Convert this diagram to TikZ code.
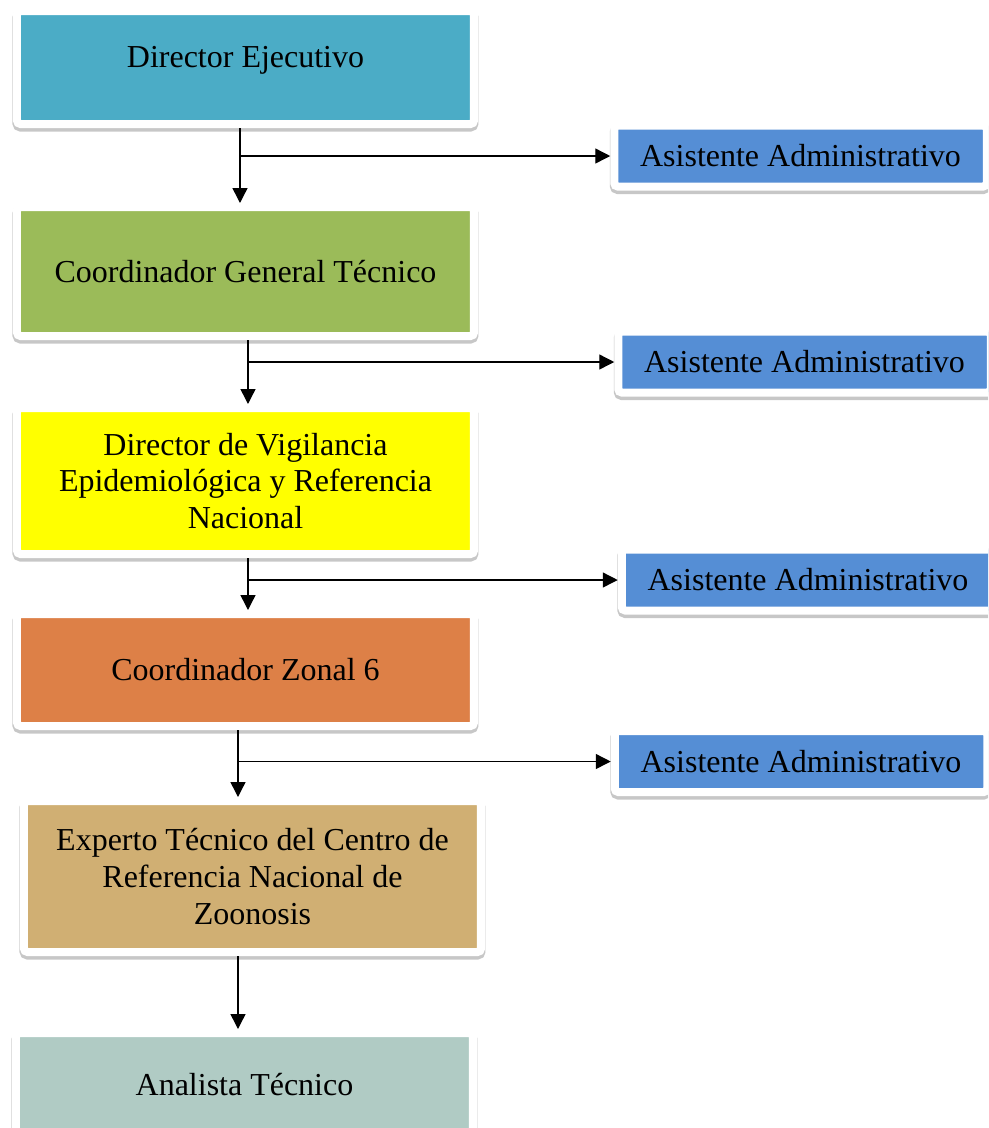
\documentclass[tikz,border=0pt]{standalone}
\usepackage{fontspec}
\setmainfont{Liberation Serif}
\usetikzlibrary{arrows.meta,shadows}
\definecolor{aqua}{RGB}{75,172,198}
\definecolor{olivo}{RGB}{155,187,89}
\definecolor{amarillo}{RGB}{255,255,0}
\definecolor{naranja}{RGB}{221,128,71}
\definecolor{arena}{RGB}{208,175,115}
\definecolor{salvia}{RGB}{176,203,196}
\definecolor{azulasis}{RGB}{85,142,213}
\begin{document}
\begin{tikzpicture}[
  puesto/.style={rectangle, draw=white, line width=0.16cm, rounded corners=2pt, minimum width=9.14cm, align=center, font=\fontsize{18.2pt}{21pt}\selectfont, drop shadow={shadow xshift=0pt, shadow yshift=-0.06cm, draw=black, line width=0.18cm, opacity=0.22}},
  asistente/.style={puesto, fill=azulasis, minimum width=7.45cm, minimum height=1.22cm},
  linea/.style={-{Triangle[width=0.3cm,length=0.3cm]}, line width=0.8pt},
  node distance=4cm
]
\path[use as bounding box, clip] (-4.91,1.35) rectangle (14.85,-21.21);

\node[puesto, fill=aqua, minimum height=2.26cm, text depth=0.42cm] (dirEj) {Director Ejecutivo};
\node[puesto, fill=olivo, minimum height=2.58cm, below of=dirEj, node distance=4.08cm] (coordGen) {Coordinador General Técnico};
\node[puesto, fill=amarillo, minimum height=2.92cm, below of=coordGen, node distance=4.19cm] (dirVig) {Director de Vigilancia\\Epidemiológica y Referencia\\Nacional};
\node[puesto, fill=naranja, minimum height=2.24cm, below of=dirVig, node distance=3.78cm] (coordZon) {Coordinador Zonal 6};
\node[puesto, fill=arena, minimum height=3.02cm, below of=coordZon, node distance=4.13cm, xshift=0.14cm] (experto) {Experto Técnico del Centro de\\Referencia Nacional de\\Zoonosis};
\node[puesto, fill=salvia, minimum height=2.08cm, below of=experto, node distance=4.17cm, xshift=-0.16cm] (analista) {Analista Técnico};

\node[asistente, right of=dirEj, node distance=11.1cm, yshift=-1.77cm] (asis1) {Asistente Administrativo};
\node[asistente, right of=coordGen, node distance=11.18cm, yshift=-1.81cm] (asis2) {Asistente Administrativo};
\node[asistente, right of=dirVig, node distance=11.25cm, yshift=-1.98cm] (asis3) {Asistente Administrativo};
\node[asistente, right of=coordZon, node distance=11.11cm, yshift=-1.83cm] (asis4) {Asistente Administrativo};

\draw[linea] ([xshift=-0.11cm]dirEj.south) -- ([xshift=-0.11cm]dirEj.south |- coordGen.north);
\draw[linea] ([xshift=-0.11cm]dirEj.south |- asis1.west) -- (asis1.west);
\draw[linea] ([xshift=0.05cm]coordGen.south) -- ([xshift=0.05cm]coordGen.south |- dirVig.north);
\draw[linea] ([xshift=0.05cm]coordGen.south |- asis2.west) -- (asis2.west);
\draw[linea] ([xshift=0.05cm]dirVig.south) -- ([xshift=0.05cm]dirVig.south |- coordZon.north);
\draw[linea] ([xshift=0.05cm]dirVig.south |- asis3.west) -- (asis3.west);
\draw[linea] ([xshift=-0.15cm]coordZon.south) -- ([xshift=-0.15cm]coordZon.south |- experto.north);
\draw[linea] ([xshift=-0.15cm]coordZon.south |- asis4.west) -- (asis4.west);

% ultimo nivel
\draw[linea] ([xshift=-0.29cm]experto.south) -- ([xshift=-0.29cm]experto.south |- analista.north);
\end{tikzpicture}
\end{document}
